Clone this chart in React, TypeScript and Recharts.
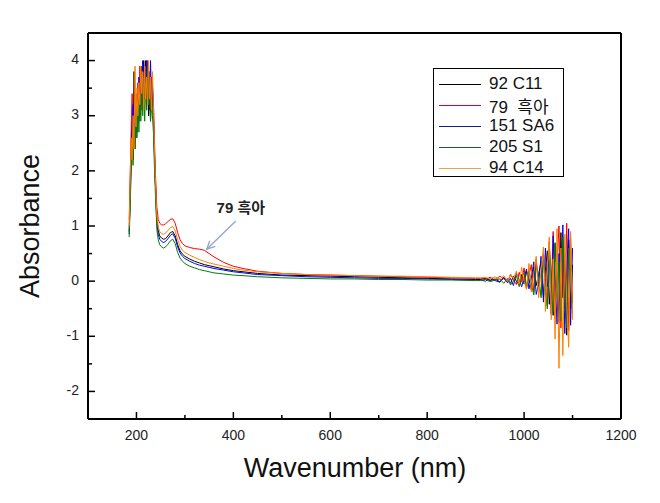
import { LineChart, Line, XAxis, YAxis, ReferenceLine } from 'recharts';

// wavelength grid (nm)
const wavelength = [
  185, 187, 189, 191, 193, 195, 197, 199, 201, 203, 205, 207, 209, 211, 213, 215, 217, 219, 221, 223, 225, 227, 229, 231, 233, 235, 237, 239,
  242, 245, 248, 252, 256, 260, 265, 270, 275, 280, 285, 290, 295, 300, 310, 320, 330, 340, 350, 360, 380, 400, 420, 450, 500, 550, 600, 650, 700, 750, 800, 850, 900,
  910, 920, 930, 940, 950, 958, 966, 972, 978, 984, 990, 995, 1000, 1005, 1010, 1015, 1020, 1025, 1030, 1035, 1040, 1044, 1048, 1052, 1056, 1060, 1064, 1068, 1072, 1076, 1080, 1084, 1088, 1092, 1096, 1100,
];

const c11 = [
  0.85, 1.6, 2.3, 2.9, 2.2, 3.8, 2.6, 3.1, 2.7, 3.3, 2.9, 3.5, 3.1, 3.9, 3.4, 4.0, 3.6, 4.0, 3.2, 3.7, 3.0, 3.6, 2.9, 3.4, 3.4, 3.0, 2.4, 1.8,
  1.15, 0.92, 0.82, 0.78, 0.76, 0.77, 0.82, 0.88, 0.9, 0.82, 0.66, 0.55, 0.49, 0.45, 0.4, 0.36, 0.33, 0.3, 0.28, 0.26, 0.22, 0.19, 0.17, 0.14, 0.11, 0.1, 0.09, 0.08, 0.07, 0.06, 0.05, 0.04, 0.03,
  0.03, 0.05, 0.01, 0.04, -0.01, 0.06, 0.02, -0.04, 0.09, 0.0, -0.07, 0.12, -0.05, 0.18, 0.05, -0.16, 0.26, -0.08, 0.12, 0.36,
  -0.3, 0.2, 0.55, -0.42, 0.1, -0.62, 0.68, 0.2, -0.75, 0.88, -0.3, 0.5, -0.98, 0.75, -0.5, 0.3,
];
const heuka = [
  1.1, 1.9, 2.7, 3.4, 2.6, 3.1, 2.4, 3.3, 3.0, 3.6, 3.2, 3.9, 3.3, 3.8, 3.1, 3.7, 3.3, 3.9, 3.5, 4.0, 3.4, 3.8, 3.2, 3.7, 3.5, 3.3, 2.6, 2.0,
  1.35, 1.12, 1.05, 1.02, 1.02, 1.04, 1.08, 1.12, 1.13, 1.05, 0.88, 0.75, 0.68, 0.64, 0.61, 0.59, 0.58, 0.56, 0.5, 0.44, 0.34, 0.27, 0.23, 0.18, 0.14, 0.12, 0.11, 0.1, 0.09, 0.08, 0.07, 0.06, 0.05,
  0.05, 0.03, 0.07, 0.02, 0.09, 0.04, -0.02, 0.12, 0.03, -0.06, 0.16, -0.02, 0.24, -0.12, 0.1, 0.3, -0.2, 0.4, -0.1, -0.25,
  0.5, 0.05, -0.45, 0.72, -0.2, 0.9, -0.6, 0.3, 1.0, -0.85, 0.4, -0.5, 1.05, -0.9, 0.8, -0.4,
];
const sa6 = [
  0.9, 1.5, 2.1, 2.7, 3.2, 2.5, 3.0, 2.6, 3.4, 2.9, 3.7, 3.0, 3.6, 3.2, 4.0, 3.3, 3.9, 3.5, 4.0, 3.3, 3.8, 3.1, 4.0, 3.3, 3.6, 3.0, 2.3, 1.8,
  1.05, 0.85, 0.76, 0.72, 0.7, 0.72, 0.77, 0.83, 0.86, 0.78, 0.62, 0.51, 0.45, 0.41, 0.36, 0.32, 0.29, 0.27, 0.25, 0.23, 0.2, 0.17, 0.15, 0.12, 0.1, 0.08, 0.07, 0.06, 0.05, 0.05, 0.04, 0.03, 0.02,
  0.02, 0.0, 0.04, 0.01, -0.02, 0.07, -0.03, 0.05, -0.08, 0.14, 0.02, -0.1, 0.06, 0.22, -0.14, 0.05, 0.35, -0.24, -0.05, 0.45,
  -0.38, 0.6, -0.1, 0.4, -0.6, 0.82, 0.1, -0.78, 0.5, -0.4, 1.02, -0.95, 0.2, 0.95, -0.8, 0.6,
];
const s1 = [
  0.8, 1.3, 2.0, 2.5, 2.1, 2.8, 2.4, 3.1, 2.6, 3.2, 2.7, 3.4, 2.9, 3.5, 3.0, 3.7, 2.9, 3.6, 3.1, 3.9, 3.2, 3.5, 2.9, 3.3, 3.0, 2.7, 2.1, 1.6,
  0.95, 0.75, 0.66, 0.62, 0.6, 0.62, 0.67, 0.73, 0.76, 0.68, 0.52, 0.42, 0.36, 0.32, 0.27, 0.24, 0.21, 0.19, 0.17, 0.15, 0.13, 0.11, 0.1, 0.08, 0.06, 0.05, 0.04, 0.04, 0.03, 0.03, 0.02, 0.02, 0.01,
  0.01, 0.03, -0.01, 0.02, 0.04, -0.04, 0.05, -0.07, 0.0, 0.1, -0.1, 0.08, 0.15, -0.14, 0.22, -0.05, -0.25, 0.3, 0.1, -0.3,
  0.42, -0.2, -0.5, 0.6, 0.15, -0.55, 0.7, -0.3, 0.35, -0.72, 0.8, 0.0, -0.85, 0.6, 0.2, -0.6,
];
const c14 = [
  1.0, 1.8, 2.6, 2.2, 3.0, 2.4, 3.9, 2.8, 3.5, 3.0, 3.6, 3.2, 3.9, 3.4, 3.8, 3.1, 3.9, 3.3, 3.7, 3.2, 4.0, 3.3, 3.7, 3.1, 3.8, 3.2, 2.5, 1.9,
  1.2, 0.98, 0.9, 0.86, 0.85, 0.87, 0.92, 0.97, 0.99, 0.91, 0.75, 0.63, 0.56, 0.52, 0.47, 0.43, 0.39, 0.36, 0.33, 0.31, 0.27, 0.23, 0.2, 0.17, 0.14, 0.12, 0.11, 0.1, 0.09, 0.09, 0.08, 0.07, 0.06,
  0.06, 0.07, 0.04, 0.08, 0.03, 0.1, -0.01, 0.13, 0.05, 0.18, -0.06, 0.25, 0.0, -0.15, 0.32, -0.2, 0.15, 0.45, -0.3, 0.2,
  0.62, -0.55, 0.3, 0.8, -0.7, 0.4, -1.05, 0.95, -1.58, 0.6, -1.35, 0.85, -0.4, -1.2, 0.9, -0.7,
];

const seriesKeys = ['c11', 'heuka', 'sa6', 's1', 'c14'];
const seriesNames = ['92 C11', '79  흑아', '151 SA6', '205 S1', '94 C14'];
const seriesColors = ['#000000', '#ff0000', '#0000ff', '#008000', '#ff8000'];
const legendColors = ['#000000', '#e0002a', '#1a1a9a', '#1d5e2a', '#f0a040'];

const xTicks = [200, 300, 400, 500, 600, 700, 800, 900, 1000, 1100, 1200];
const yTicks = [-2, -1.5, -1, -0.5, 0, 0.5, 1, 1.5, 2, 2.5, 3, 3.5, 4];

const data = wavelength.map((wl, i) => ({
  wl,
  c11: c11[i],
  heuka: heuka[i],
  sa6: sa6[i],
  s1: s1[i],
  c14: c14[i],
}));

const font = '"Liberation Sans", Arial, "Noto Sans CJK KR", sans-serif';

const XTick = ({ x, y, payload }: any) => {
  const major = payload.value % 200 === 0;
  return (
    <g>
      <line x1={x} x2={x} y1={y} y2={y - (major ? 7 : 4)} stroke="#000" strokeWidth={1.5} />
      {major && (
        <text x={x} y={y + 17} textAnchor="middle" dominantBaseline="middle" fontSize={14} fill="#222" fontFamily={font}>
          {payload.value}
        </text>
      )}
    </g>
  );
};

const YTick = ({ x, y, payload }: any) => {
  const major = Number.isInteger(payload.value);
  return (
    <g>
      <line x1={x} x2={x + (major ? 7 : 4)} y1={y} y2={y} stroke="#000" strokeWidth={1.5} />
      {major && (
        <text x={x - 9} y={y} textAnchor="end" dominantBaseline="middle" fontSize={14} fill="#222" fontFamily={font}>
          {payload.value}
        </text>
      )}
    </g>
  );
};

const Arrow = ({ x1, y1, x2, y2 }: any) => {
  const a = Math.atan2(y2 - y1, x2 - x1);
  const len = 9;
  const spread = 0.45;
  return (
    <g>
      <line x1={x1} y1={y1} x2={x2} y2={y2} stroke="#8fa6c8" strokeWidth={1.3} />
      <polyline
        points={`${x2 - len * Math.cos(a - spread)},${y2 - len * Math.sin(a - spread)} ${x2},${y2} ${x2 - len * Math.cos(a + spread)},${y2 - len * Math.sin(a + spread)}`}
        fill="none"
        stroke="#8fa6c8"
        strokeWidth={1.3}
      />
      <text x={x1 + 5} y={y1 - 12} textAnchor="middle" dominantBaseline="middle" fontSize={15} fontWeight="bold" fill="#222" fontFamily={font}>
        79 흑아
      </text>
    </g>
  );
};

export default function App() {
  return (
    <div style={{ position: 'absolute', left: 0, top: 0, width: 660, height: 503, background: '#fff', fontFamily: font }}>
      <LineChart width={660} height={503} data={data} margin={{ top: 32, right: 38, bottom: 83, left: 87 }}>
        <XAxis
          dataKey="wl"
          type="number"
          domain={[100, 1200]}
          ticks={xTicks}
          interval={0}
          height={1}
          tickSize={0}
          tickMargin={0}
          tick={<XTick />}
          tickLine={false}
          axisLine={{ stroke: '#000', strokeWidth: 2 }}
        />
        <XAxis xAxisId="top" orientation="top" type="number" domain={[100, 1200]} height={1} tick={false} tickLine={false} axisLine={{ stroke: '#000', strokeWidth: 2 }} />
        <YAxis
          type="number"
          domain={[-2.5, 4.5]}
          ticks={yTicks}
          interval={0}
          width={1}
          tickSize={0}
          tickMargin={0}
          tick={<YTick />}
          tickLine={false}
          axisLine={{ stroke: '#000', strokeWidth: 2 }}
        />
        <YAxis yAxisId="right" orientation="right" type="number" domain={[-2.5, 4.5]} width={1} tick={false} tickLine={false} axisLine={{ stroke: '#000', strokeWidth: 2 }} />
        {seriesKeys.map((k, i) => (
          <Line
            key={k}
            type="linear"
            dataKey={k}
            name={seriesNames[i]}
            stroke={seriesColors[i]}
            strokeWidth={1}
            dot={false}
            isAnimationActive={false}
          />
        ))}
        <ReferenceLine segment={[{ x: 405, y: 1.09 }, { x: 345, y: 0.58 }]} shape={<Arrow />} />
      </LineChart>

      <div
        style={{
          position: 'absolute',
          left: 433,
          top: 68,
          width: 131,
          height: 109,
          border: '1px solid #000',
          boxSizing: 'border-box',
          background: '#fff',
        }}
      >
        {seriesNames.map((n, i) => (
          <div key={n} style={{ position: 'absolute', left: 0, top: 15 + i * 21 - 10, height: 20, display: 'flex', alignItems: 'center' }}>
            <div style={{ marginLeft: 5, width: 42, height: 1, background: legendColors[i] }} />
            <span style={{ marginLeft: 8, fontSize: 17, color: '#111', whiteSpace: 'pre' }}>{n}</span>
          </div>
        ))}
      </div>

      <div
        style={{
          position: 'absolute',
          left: -70,
          top: 226 - 15,
          width: 200,
          height: 30,
          lineHeight: '30px',
          textAlign: 'center',
          fontSize: 27,
          color: '#111',
          transform: 'rotate(-90deg)',
        }}
      >
        Absorbance
      </div>
      <div
        style={{
          position: 'absolute',
          left: 205,
          top: 453,
          width: 300,
          height: 30,
          lineHeight: '30px',
          textAlign: 'center',
          fontSize: 27,
          color: '#111',
        }}
      >
        Wavenumber (nm)
      </div>
    </div>
  );
}
